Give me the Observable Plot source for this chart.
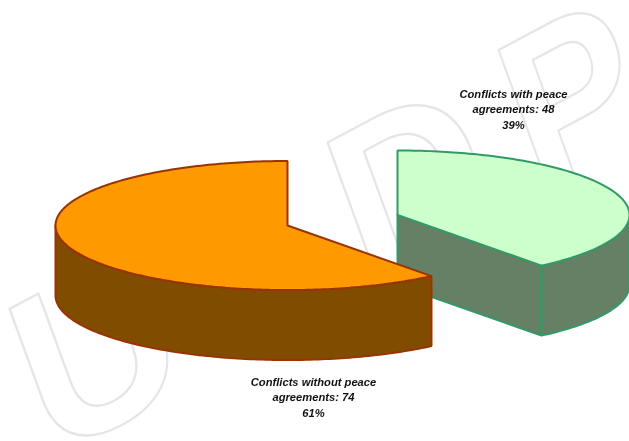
<!DOCTYPE html>
<html>
<head>
<meta charset="utf-8">
<script src="https://cdn.jsdelivr.net/npm/d3@7"></script>
<script src="https://cdn.jsdelivr.net/npm/@observablehq/plot@0.6"></script>
<style>html,body{margin:0;padding:0;background:#fff}svg{display:block}</style>
</head>
<body>
<div id="chart"></div>
<script>
const categories = ["Conflicts without peace agreements", "Conflicts with peace agreements"];
const counts = [74, 48];
const percents = ["61%", "39%"];
const labelLines = [
  ["Conflicts without peace", "agreements: 74", "61%"],
  ["Conflicts with peace", "agreements: 48", "39%"]
];
const topFills = ["#ff9900", "#ccffcc"];
const sideFills = ["#804d00", "#668066"];
const strokes = ["#993300", "#339966"];
// pie geometry in plot units
const centers = [[287, 225], [397, 214.5]];
const radii = [232, 64.5];
const depth = 70;
const labelAnchors = [[313, 396], [513, 108]];
const waterLetters = ["U", "D", "P"];
const waterX = [50, 367, 539];
const waterY = [460, 294, 201];
const waterBaseAngle = 28, waterStemAngle = 20, waterScaleX = [1.04, 1, 0.92], waterScaleY = 1.03;

const total = d3.sum(counts);
const sweep = counts.map(c => c / total * 360);

// angle in degrees clockwise from 12 o'clock
const pt = (i, a, dz = 0) => {
  const r = a * Math.PI / 180;
  return {x: centers[i][0] + radii[0] * Math.sin(r), y: centers[i][1] - radii[1] * Math.cos(r) + dz};
};
const arc = (i, a0, a1, dz = 0) => {
  const n = Math.max(2, Math.ceil(Math.abs(a1 - a0)));
  return d3.range(n + 1).map(k => pt(i, a0 + (a1 - a0) * k / n, dz));
};
const shape = (id, i, fill, points) => points.concat([points[0]]).map(p => ({...p, id, fill, stroke: strokes[i], i}));

// orange slice runs counter-clockwise from the top, green clockwise from the top
const o0 = -sweep[0], g1 = sweep[1];
const apex = i => ({x: centers[i][0], y: centers[i][1]});
const down = (p, dz) => ({x: p.x, y: p.y + dz});

const shapes = [
  // green: cut face, outer wall, top
  shape("g-cut", 1, sideFills[1], [apex(1), pt(1, g1), down(pt(1, g1), depth), down(apex(1), depth)]),
  shape("g-wall", 1, sideFills[1], [...arc(1, 90, g1), ...arc(1, g1, 90, depth)]),
  shape("g-top", 1, topFills[1], [apex(1), ...arc(1, 0, g1)]),
  // orange: outer wall, top
  shape("o-wall", 0, sideFills[0], [...arc(0, -90, o0), ...arc(0, o0, -90, depth)]),
  shape("o-top", 0, topFills[0], [apex(0), ...arc(0, 0, o0)])
].flat();

const labels = labelLines.map((lines, i) => ({
  text: lines.join("\n"), x: labelAnchors[i][0], y: labelAnchors[i][1]
}));
const letters = waterLetters.map((t, i) => ({t, x: waterX[i], y: waterY[i]}));

const rad = d => d * Math.PI / 180;
const waterMatrix = sx => `matrix(${Math.cos(rad(waterBaseAngle)) * sx},${-Math.sin(rad(waterBaseAngle)) * sx},${Math.sin(rad(waterStemAngle)) * waterScaleY},${Math.cos(rad(waterStemAngle)) * waterScaleY},0,0)`;

const chart = Plot.plot({
  width: 629, height: 441,
  margin: 0,
  style: {filter: "blur(0.35px)"},
  x: {domain: [0, 629], axis: null},
  y: {domain: [441, 0], axis: null},
  marks: [
    Plot.text(letters, {
      x: "x", y: "y", text: "t", fontSize: 218,
      fontFamily: "Liberation Sans", fontWeight: "bold", fill: "none", stroke: "#e5e5e5", strokeWidth: 2.2,
      textAnchor: "start", lineAnchor: "bottom",
      render(index, scales, values, dims, ctx, next) {
        const g = next(index, scales, values, dims, ctx);
        d3.select(g).selectAll("text").attr("transform", function (_, i) {
          return `${this.getAttribute("transform") || ""} ${waterMatrix(waterScaleX[i])}`;
        });
        return g;
      }
    }),
    Plot.line(shapes, {
      x: "x", y: "y", z: "id", fill: "fill", stroke: "stroke",
      strokeWidth: 2, strokeLinejoin: "miter", curve: "linear"
    }),
    Plot.text(labels, {
      x: "x", y: "y", text: "text", fontSize: 11.2, lineHeight: 1.366,
      fontFamily: "Liberation Sans", fontWeight: "bold", fontStyle: "italic", fill: "#111"
    })
  ]
});
document.getElementById("chart").appendChild(chart);
</script>
</body>
</html>
